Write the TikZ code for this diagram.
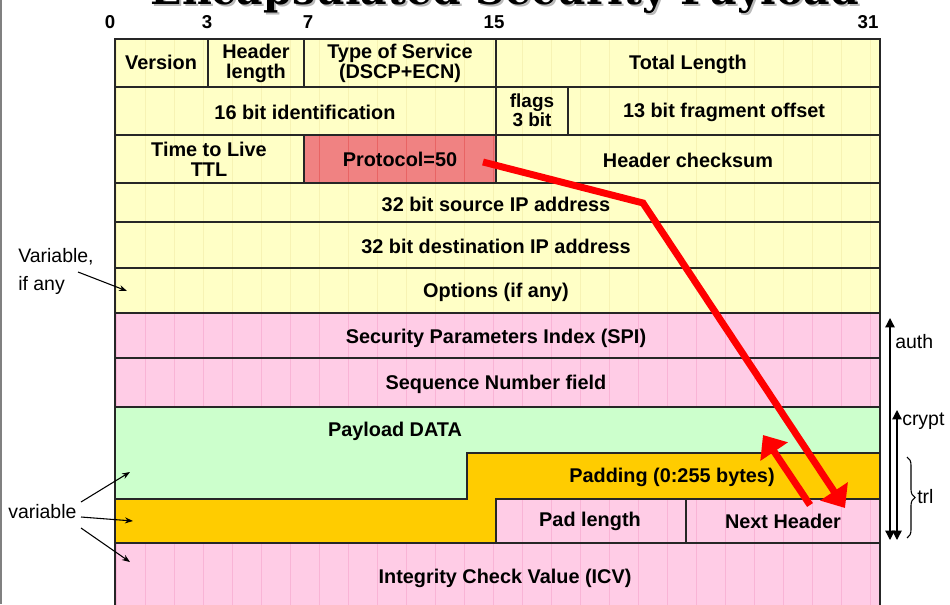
\documentclass[tikz,border=0pt]{standalone}
\usepackage{fontspec}
\setmainfont{Liberation Sans}
\newfontfamily\titlefont{DejaVu Serif}
\usetikzlibrary{arrows.meta,decorations.pathreplacing}

\definecolor{ipyellow}{HTML}{FFFFC6}
\definecolor{ipyellowgrid}{HTML}{F7F3B4}
\definecolor{esppink}{HTML}{FFCCE6}
\definecolor{esppinkgrid}{HTML}{F9B4D6}
\definecolor{protored}{HTML}{F08282}
\definecolor{protogrid}{HTML}{E86464}
\definecolor{paygreen}{HTML}{CCFFCC}
\definecolor{padorange}{HTML}{FFCC00}
\definecolor{arrowred}{HTML}{FF0000}

\begin{document}
\begin{tikzpicture}[x=0.75pt,y=-0.75pt,
  field/.style={font=\bfseries\fontsize{14.9}{15}\selectfont, align=center, inner sep=0pt},
  bitno/.style={font=\bfseries\fontsize{14}{14}\selectfont, inner sep=0pt, anchor=base},
  note/.style={font=\fontsize{14.6}{16}\selectfont, inner sep=0pt},
  border/.style={line width=1.4pt, black!85},
  gridline/.style={line width=0.45pt},
  pointer/.style={-{Stealth[length=6pt,width=4.5pt]}, line width=0.8pt},
  span/.style={{Triangle[length=7pt,width=7pt]}-{Triangle[length=7pt,width=7pt]}, line width=1pt},
  redarrow/.style={-{Triangle[length=15pt,width=24pt]}, line width=5.2pt, arrowred},
]
\useasboundingbox (0,0) rectangle (950,604);

% slide frame edge
\draw[gray, line width=1pt] (1,0) -- (1,604);

% title (only its lower part falls on the page)
\node[font=\titlefont\bfseries\fontsize{30.8}{32}\selectfont, anchor=base, text=gray!55, inner sep=0pt] (titleshadow) at (507,6) {Encapsulated Security Payload};
\node[font=\titlefont\bfseries\fontsize{30.8}{32}\selectfont, anchor=base, inner sep=0pt] (title) at (505,4) {Encapsulated Security Payload};

% bit positions
\node[bitno] (b0) at (110,28) {0};
\node[bitno] (b3) at (207,28) {3};
\node[bitno] (b7) at (308,28) {7};
\node[bitno] (b15) at (494,28) {15};
\node[bitno] (b31) at (868,28) {31};

% ---------- fills with faint grid ----------
% IP header (yellow)
\begin{scope}
  \clip (115,39) rectangle (880,313);
  \fill[ipyellow] (115,39) rectangle (880,313);
  \draw[gridline, ipyellowgrid] (87,29) grid[step=29] (900,320);
\end{scope}
% protocol field (red)
\begin{scope}
  \clip (304,135) rectangle (496,183);
  \fill[protored] (304,135) rectangle (496,183);
  \draw[gridline, protogrid] (290,116) grid[step=29] (500,190);
\end{scope}
% ESP header / trailer / ICV (pink)
\begin{scope}
  \clip (115,313) rectangle (880,407) (496,499) rectangle (880,543) (115,543) rectangle (880,620);
  \fill[esppink] (115,313) rectangle (880,620);
  \draw[gridline, esppinkgrid] (87,290) grid[step=29] (900,620);
\end{scope}
% payload (green)
\fill[paygreen] (115,407) -- (880,407) -- (880,453) -- (467,453) -- (467,499) -- (115,499) -- cycle;
% padding (orange)
\fill[padorange] (467,453) -- (880,453) -- (880,499) -- (496,499) -- (496,543) -- (115,543) -- (115,499) -- (467,499) -- cycle;

% ---------- borders ----------
\draw[border] (115,620) -- (115,39) -- (880,39) -- (880,620);
\foreach \yy in {87,135,183,222,268,313,358,407,543}
  \draw[border] (115,\yy) -- (880,\yy);
\draw[border] (208,39) -- (208,87);
\draw[border] (304,39) -- (304,87);
\draw[border] (496,39) -- (496,183);
\draw[border] (568,87) -- (568,135);
\draw[border] (304,135) -- (304,183);
\draw[border] (115,499) -- (467,499) -- (467,453) -- (880,453);
\draw[border] (496,543) -- (496,499) -- (880,499);
\draw[border] (686,499) -- (686,543);

% ---------- field labels ----------
\node[field] (ver) at (161,62) {Version};
\node[field] (hlen) at (256,63) {Header\\length};
\node[field] (tos) at (400,63) {Type of Service\\(DSCP+ECN)};
\node[field] (totlen) at (688,64) {Total Length};
\node[field] (ident) at (305,112) {16 bit identification};
\node[field, font=\bfseries\fontsize{14.2}{13}\selectfont] (flags) at (532,110) {flags\\3 bit};
\node[field] (frag) at (724,112) {13 bit fragment offset};
\node[field] (ttl) at (209,159) {Time to Live\\TTL};
\node[field] (proto) at (400,159) {Protocol=50};
\node[field] (hcs) at (688,160) {Header checksum};
\node[field] (src) at (496,204) {32 bit source IP address};
\node[field] (dst) at (496,246) {32 bit destination IP address};
\node[field] (opt) at (496,292) {Options (if any)};
\node[field] (spi) at (496,338) {Security Parameters Index (SPI)};
\node[field] (seq) at (496,384) {Sequence Number field};
\node[field] (payload) at (395,431) {Payload DATA};
\node[field] (padding) at (672,477) {Padding (0:255 bytes)};
\node[field] (padlen) at (590,521) {Pad length};
\node[field] (nexthdr) at (783,521) {Next Header};
\node[field] (icv) at (505,578) {Integrity Check Value (ICV)};

% ---------- left notes ----------
\node[note, anchor=base west] (var1) at (18,262) {Variable,};
\node[note, anchor=base west] (var2) at (18,290) {if any};
\coordinate (optfrom) at (78,272);
\coordinate (optto) at (127,291);
\draw[pointer] (optfrom) -- (optto);

\node[note, anchor=base west] (varb) at (8,518) {variable};
\coordinate (vfromA) at (81,502);
\coordinate (vfromB) at (81,517);
\coordinate (vfromC) at (81,528);
\coordinate (vtoA) at (130,472);
\coordinate (vtoB) at (133,521);
\coordinate (vtoC) at (130,562);
\draw[pointer] (vfromA) -- (vtoA);
\draw[pointer] (vfromB) -- (vtoB);
\draw[pointer] (vfromC) -- (vtoC);

% ---------- right spans ----------
\coordinate (authtop) at (890,318);
\coordinate (authbot) at (890,540);
\draw[span] (authtop) -- (authbot);
\node[note, anchor=west] (auth) at (895,342) {auth};
\coordinate (crypttop) at (897,410);
\coordinate (cryptbot) at (897,540);
\draw[span] (crypttop) -- (cryptbot);
\node[note, anchor=west] (crypt) at (902,421) {crypt};
\coordinate (trltop) at (907,457);
\coordinate (trlbot) at (907,538);
\draw[line width=0.8pt, decorate, decoration={brace, amplitude=6pt}] (trltop) -- (trlbot);
\node[note, anchor=west] (trl) at (917,497) {trl};

% ---------- next-header pointers ----------
\coordinate (prototail) at (483,162);
\coordinate (bend) at (643,203);
\coordinate (nhtip) at (845,508);
\draw[redarrow] (prototail) -- (bend) -- (nhtip);
\coordinate (nhtail) at (810,505);
\coordinate (padtip) at (763,435);
\draw[redarrow] (nhtail) -- (padtip);
\end{tikzpicture}
\end{document}
